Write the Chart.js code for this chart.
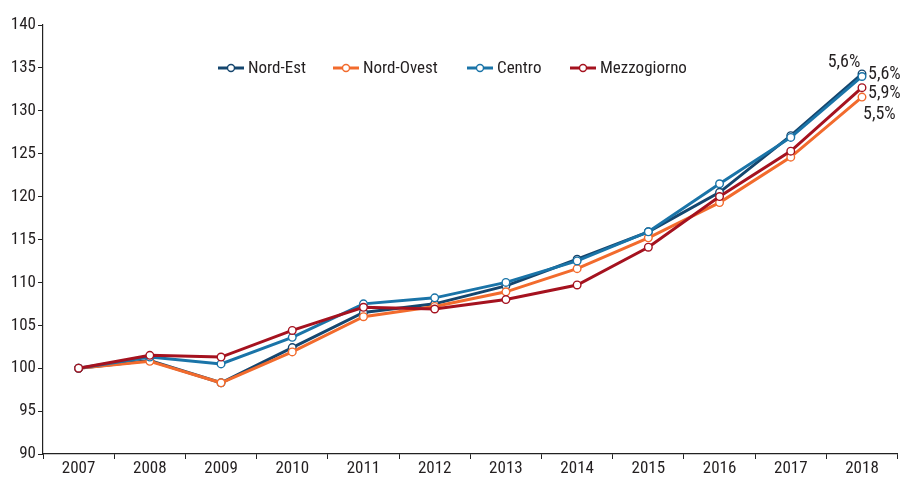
<!DOCTYPE html>
<html><head><meta charset="utf-8">
<script src="https://cdn.jsdelivr.net/npm/chart.js@4.4.1/dist/chart.umd.min.js"></script>
<style>html,body{margin:0;padding:0;background:#fff}#c{display:block}</style>
</head><body>
<canvas id="c" width="903" height="480"></canvas>
<script>
const years = ['2007','2008','2009','2010','2011','2012','2013','2014','2015','2016','2017','2018'];
const nordEst     = [100, 100.9, 98.3, 102.4, 106.5, 107.5, 109.6, 112.7, 115.9, 120.5, 127.1, 134.3];
const nordOvest   = [100, 100.8, 98.3, 101.9, 106.0, 107.2, 108.9, 111.6, 115.2, 119.3, 124.6, 131.6];
const centro      = [100, 101.3, 100.5, 103.6, 107.5, 108.2, 110.0, 112.5, 115.9, 121.5, 126.9, 134.0];
const mezzogiorno = [100, 101.5, 101.3, 104.4, 107.1, 106.9, 108.0, 109.7, 114.1, 120.0, 125.3, 132.7];
const seriesNames = ['Nord-Est','Nord-Ovest','Centro','Mezzogiorno'];
const lastLabels  = ['5,6%','5,5%','5,6%','5,9%'];
const yTicks = [90,95,100,105,110,115,120,125,130,135,140];

const colors = ['#15466e','#f26b2d','#1a74a8','#a5121f'];
const FONT = "'Liberation Sans Narrow','Roboto Condensed','Open Sans Condensed','Liberation Sans',sans-serif";

function ds(label, data, color, order){
  return {label, data, borderColor: color, backgroundColor:'#fff', borderWidth:3,
    pointRadius:3.8, pointBorderWidth:1.4, pointBackgroundColor:'#fff', pointBorderColor: color,
    tension:0, order};
}

const legendPlugin = {
  id:'customLegend',
  afterDraw(chart){
    const ctx = chart.ctx;
    ctx.save();
    ctx.font = '17px ' + FONT;
    ctx.textBaseline = 'middle';
    const xs = [218, 333, 467, 570];
    const y = 68;
    seriesNames.forEach((n,i)=>{
      const x = xs[i];
      ctx.strokeStyle = colors[i]; ctx.lineWidth = 3;
      ctx.beginPath(); ctx.moveTo(x, y); ctx.lineTo(x+26, y); ctx.stroke();
      ctx.fillStyle = '#fff'; ctx.lineWidth = 1.4;
      ctx.beginPath(); ctx.arc(x+13, y, 3.5, 0, Math.PI*2); ctx.fill(); ctx.stroke();
      ctx.fillStyle = '#231f20';
      ctx.textAlign = 'left';
      ctx.fillText(n, x+30, y+1);
    });
    // end labels
    const offs = [[-18,-11,'center'],[1,17,'left'],[6,-2,'left'],[6,6,'left']];
    ctx.font = '18px ' + FONT;
    chart.data.datasets.forEach((d,i)=>{
      const meta = chart.getDatasetMeta(i);
      const pt = meta.data[meta.data.length-1];
      ctx.textAlign = offs[i][2];
      ctx.fillStyle = '#231f20';
      ctx.fillText(lastLabels[i], pt.x + offs[i][0], pt.y + offs[i][1]);
    });
    ctx.restore();
  }
};

new Chart(document.getElementById('c'), {
  type:'line',
  data:{ labels: years, datasets:[
    ds(seriesNames[0], nordEst, colors[0], 4),
    ds(seriesNames[1], nordOvest, colors[1], 3),
    ds(seriesNames[2], centro, colors[2], 2),
    ds(seriesNames[3], mezzogiorno, colors[3], 1)
  ]},
  options:{
    responsive:false, animation:false, devicePixelRatio:1,
    layout:{padding:{top:25, right:2, left:0, bottom:0}},
    plugins:{legend:{display:false}, tooltip:{enabled:false}},
    scales:{
      x:{
        offset:true,
        grid:{display:true, offset:true, drawOnChartArea:false, drawTicks:true, tickLength:5, color:'#222', lineWidth:1},
        border:{display:true, color:'#222', width:1.2},
        ticks:{color:'#231f20', font:{family:FONT, size:17}, padding:0, maxRotation:0, autoSkip:false},
        afterFit(s){ s.height = 26; }
      },
      y:{
        min:90, max:140,
        afterBuildTicks(s){ s.ticks = yTicks.map(v=>({value:v})); },
        grid:{display:true, drawOnChartArea:false, drawTicks:true, tickLength:5, color:'#222', lineWidth:1},
        border:{display:true, color:'#222', width:1.2},
        ticks:{color:'#231f20', font:{family:FONT, size:17}, padding:2},
        afterFit(s){ s.width = 43; }
      }
    }
  },
  plugins:[legendPlugin]
});
</script>
</body></html>
